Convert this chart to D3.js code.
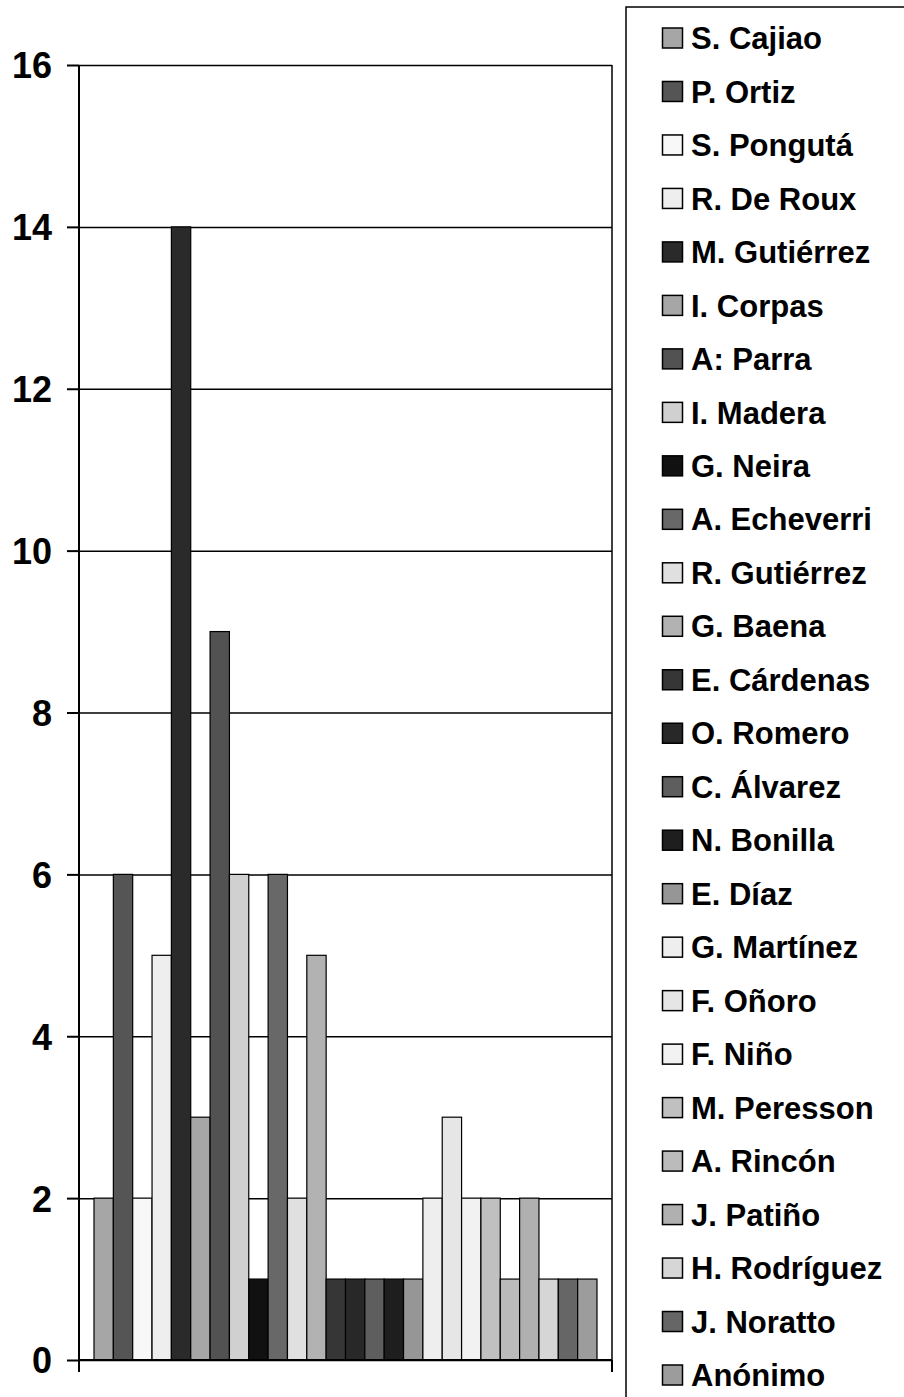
<!DOCTYPE html>
<html>
<head>
<meta charset="utf-8">
<script src="https://cdn.jsdelivr.net/npm/d3@7"></script>
<style>
	body { margin: 0; background: #fff; }
	svg { display: block; font-family: "Liberation Sans", Arial, sans-serif; font-weight: bold; }
</style>
</head>
<body>
<div id="chart"></div>
<script>
	// Data
	var names = ["S. Cajiao", "P. Ortiz", "S. Pongutá", "R. De Roux", "M. Gutiérrez", "I. Corpas",
		"A: Parra", "I. Madera", "G. Neira", "A. Echeverri", "R. Gutiérrez", "G. Baena",
		"E. Cárdenas", "O. Romero", "C. Álvarez", "N. Bonilla", "E. Díaz", "G. Martínez",
		"F. Oñoro", "F. Niño", "M. Peresson", "A. Rincón", "J. Patiño", "H. Rodríguez",
		"J. Noratto", "Anónimo"];
	var values = [2, 6, 2, 5, 14, 3, 9, 6, 1, 6, 2, 5, 1, 1, 1, 1, 1, 2, 3, 2, 2, 1, 2, 1, 1, 1];
	var greys = ["#a6a6a6", "#555555", "#f8f8f8", "#eeeeee", "#2a2a2a", "#a6a6a6",
		"#525252", "#d0d0d0", "#111111", "#686868", "#e0e0e0", "#b2b2b2",
		"#363636", "#282828", "#5e5e5e", "#1e1e1e", "#969696", "#eeeeee",
		"#e6e6e6", "#f2f2f2", "#c0c0c0", "#bbbbbb", "#b0b0b0", "#d6d6d6",
		"#666666", "#9c9c9c"];
	var yTicks = [0, 2, 4, 6, 8, 10, 12, 14, 16];

	var width = 904;
	var height = 1397;
	var plot = { left: 79, right: 612, top: 65, bottom: 1360 };

	var svg = d3.select("#chart")
		.append("svg")
		.attr("width", width)
		.attr("height", height);

	var y = d3.scaleLinear()
		.domain([0, 16])
		.range([plot.bottom, plot.top]);

	// one category, 26 series side by side (gap width ~150%)
	var x = d3.scaleBand()
		.domain(names)
		.range([plot.left + 15, plot.right - 15]);

	// gridlines
	svg.append("g")
		.attr("transform", "translate(" + plot.left + ",0)")
		.call(d3.axisLeft(y).tickValues(yTicks).tickSize(-(plot.right - plot.left)).tickFormat(""))
		.call(function(g) {
			g.select(".domain").remove();
			g.selectAll("line").attr("stroke", "#000").attr("stroke-width", 1.5);
		});

	// right border of the plot area
	svg.append("line")
		.attr("x1", plot.right).attr("x2", plot.right)
		.attr("y1", plot.top).attr("y2", plot.bottom)
		.attr("stroke", "#000").attr("stroke-width", 1.5);

	// bars
	svg.append("g")
		.selectAll("rect")
		.data(values)
		.enter()
		.append("rect")
		.attr("x", function(d, i) { return x(names[i]); })
		.attr("width", x.bandwidth())
		.attr("y", function(d) { return y(d); })
		.attr("height", function(d) { return y(0) - y(d); })
		.attr("fill", function(d, i) { return greys[i]; })
		.attr("stroke", "#000")
		.attr("stroke-width", 1.2);

	// y axis
	svg.append("g")
		.attr("transform", "translate(" + plot.left + ",0)")
		.call(d3.axisLeft(y).tickValues(yTicks).tickSize(12).tickPadding(15))
		.call(function(g) {
			g.select(".domain").attr("stroke-width", 2).attr("d", "M0," + plot.top + "V" + plot.bottom);
			g.selectAll("line").attr("stroke-width", 2);
			g.selectAll("text")
				.attr("fill", "#000")
				.attr("dy", "0.36em")
				.style("font-size", "36px")
				.style("font-family", "'Liberation Sans', Arial, sans-serif")
				.style("font-weight", "bold");
		});

	// x axis line with end tick marks
	svg.append("line")
		.attr("x1", plot.left).attr("x2", plot.right)
		.attr("y1", plot.bottom).attr("y2", plot.bottom)
		.attr("stroke", "#000").attr("stroke-width", 2);
	svg.selectAll(".xtick")
		.data([plot.left, plot.right])
		.enter()
		.append("line")
		.attr("class", "xtick")
		.attr("x1", function(d) { return d; }).attr("x2", function(d) { return d; })
		.attr("y1", plot.bottom).attr("y2", plot.bottom + 12)
		.attr("stroke", "#000").attr("stroke-width", 2);

	// legend
	var legend = svg.append("g");
	legend.append("rect")
		.attr("x", 626).attr("y", 7)
		.attr("width", 400).attr("height", 1500)
		.attr("fill", "#fff").attr("stroke", "#000").attr("stroke-width", 1.5);

	var ly = d3.scalePoint()
		.domain(names)
		.range([38, 1375]);

	var items = legend.selectAll(".item")
		.data(names)
		.enter()
		.append("g")
		.attr("class", "item")
		.attr("transform", function(d) { return "translate(0," + ly(d) + ")"; });

	items.append("rect")
		.attr("x", 662.5).attr("y", -10)
		.attr("width", 20).attr("height", 20)
		.attr("fill", function(d, i) { return greys[i]; })
		.attr("stroke", "#000").attr("stroke-width", 1.5);

	items.append("text")
		.attr("x", 691)
		.attr("dy", "0.36em")
		.attr("font-size", 31)
		.attr("fill", "#000")
		.text(function(d) { return d; });
</script>
</body>
</html>
